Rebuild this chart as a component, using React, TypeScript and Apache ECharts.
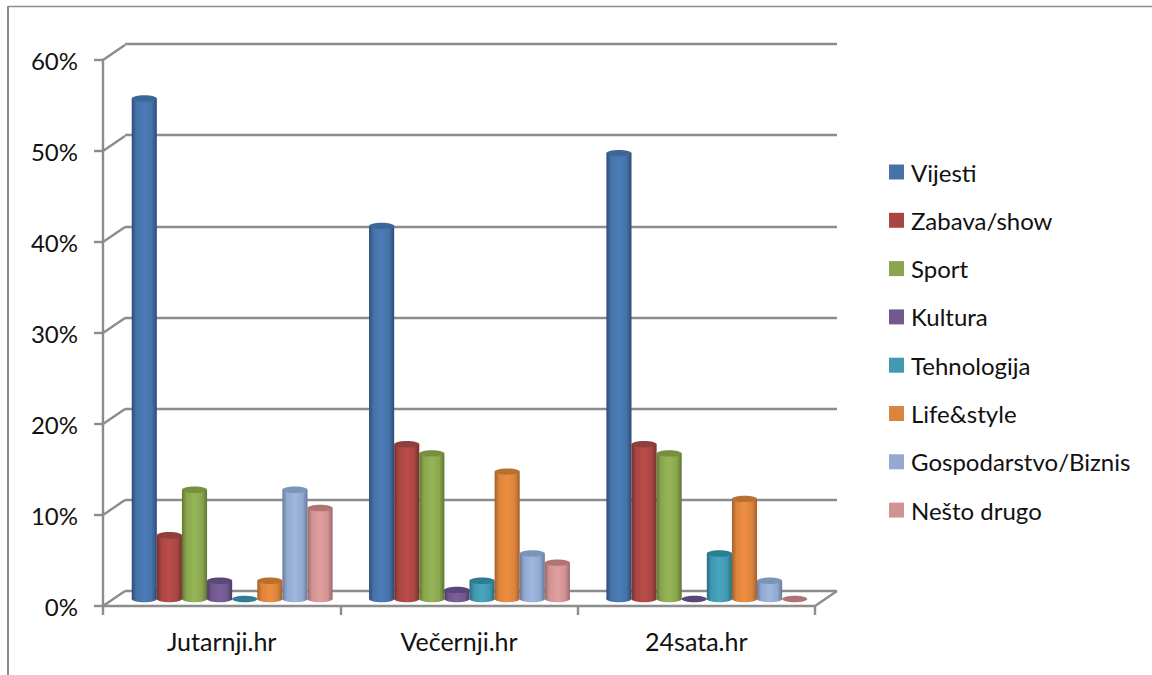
import React, { useEffect, useRef } from "react";
import * as echarts from "echarts";

const categories = ["Jutarnji.hr", "Večernji.hr", "24sata.hr"];
const seriesNames = ["Vijesti", "Zabava/show", "Sport", "Kultura", "Tehnologija", "Life&style", "Gospodarstvo/Biznis", "Nešto drugo"];
const vijesti = [55, 41, 49];
const zabava = [7, 17, 17];
const sport = [12, 16, 16];
const kultura = [2, 1, 0];
const tehnologija = [0, 2, 5];
const lifeStyle = [2, 14, 11];
const gospodarstvo = [12, 5, 2];
const nestoDrugo = [10, 4, 0];
const allValues = [vijesti, zabava, sport, kultura, tehnologija, lifeStyle, gospodarstvo, nestoDrugo];
const legendColors = ["#4672a8", "#a94643", "#8aa64e", "#71588f", "#4198af", "#db843d", "#93a9cf", "#d19392"];
const sideDark = ["#2c4c78", "#76302e", "#5f7534", "#4c3a63", "#2a6b7e", "#a3602a", "#677a9c", "#9c6a69"];
const sideLight = ["#4a7cb8", "#b94d4a", "#96b556", "#7b6199", "#47a7c0", "#ee8e40", "#9fb6de", "#e0a09f"];
const capColors = ["#3e6799", "#8f3f3c", "#76903f", "#5c4678", "#2f7d92", "#b8702e", "#7b94ba", "#b07476"];
const tickValues = [0, 10, 20, 30, 40, 50, 60];

const GREY = "#8c8c8c";
const TEXT = "#111111";
const FONT = "Lato";
const DEPTH_X = 22;
const DEPTH_Y = -15;

const cylinder = (idx: number) => (_p: any, api: any) => {
  const top = api.coord([api.value(0), api.value(1)]);
  const base = api.coord([api.value(0), 0]);
  const catW = api.size([1, 0])[0];
  const w = catW * 0.1058;
  const cx = top[0] + (idx - 3.5) * w;
  const rx = w / 2;
  const ry = 3.2;
  const children: any[] = [];
  const h = base[1] - top[1];
  if (h > 0.5) {
    const grad = new echarts.graphic.LinearGradient(0, 0, 1, 0, [
      { offset: 0, color: sideDark[idx] },
      { offset: 0.18, color: legendColors[idx] },
      { offset: 0.5, color: sideLight[idx] },
      { offset: 0.8, color: legendColors[idx] },
      { offset: 1, color: sideDark[idx] },
    ]);
    children.push({
      type: "ellipse",
      shape: { cx, cy: base[1], rx, ry },
      style: { fill: grad },
    });
    children.push({
      type: "rect",
      shape: { x: cx - rx, y: top[1], width: w, height: h },
      style: { fill: grad },
    });
  }
  children.push({
    type: "ellipse",
    shape: { cx, cy: top[1], rx, ry },
    style: { fill: capColors[idx] },
  });
  return { type: "group", children };
};

const wallLines = (_p: any, api: any) => {
  const p = api.coord([api.value(0), api.value(1)]);
  const catW = api.size([1, 0])[0];
  const lineStyle = { stroke: GREY, lineWidth: 2.4 };
  const x0 = p[0] - catW / 2;
  const children: any[] = [
    { type: "line", shape: { x1: x0, y1: p[1], x2: x0 + DEPTH_X, y2: p[1] + DEPTH_Y }, style: lineStyle },
  ];
  if (api.value(1) === 0) {
    const x1 = x0 + catW * categories.length;
    children.push({ type: "line", shape: { x1, y1: p[1], x2: x1 + DEPTH_X, y2: p[1] + DEPTH_Y }, style: lineStyle });
  }
  return { type: "group", children };
};

export default function App() {
  const ref = useRef<HTMLDivElement>(null);
  useEffect(() => {
    const chart = echarts.init(ref.current!, null, { renderer: "svg" });
    const hiddenCat = { type: "category", data: categories, show: false };
    const hiddenVal = { type: "value", min: 0, max: 60, interval: 10, show: false };
    chart.setOption({
      animation: false,
      backgroundColor: "#ffffff",
      color: legendColors,
      textStyle: { fontFamily: FONT },
      grid: [
        { left: 103, width: 712, top: 60, height: 546 },
        { left: 125, width: 712, top: 44, height: 547 },
        { left: 113.5, width: 712, top: 53, height: 546 },
      ],
      xAxis: [
        {
          type: "category",
          gridIndex: 0,
          data: categories,
          axisLine: { lineStyle: { color: GREY, width: 2.4 } },
          axisTick: { show: true, length: 9, lineStyle: { color: GREY, width: 2.4 } },
          axisLabel: { color: TEXT, fontFamily: FONT, fontSize: 25, margin: 22 },
        },
        { ...hiddenCat, gridIndex: 1 },
        { ...hiddenCat, gridIndex: 2 },
      ],
      yAxis: [
        {
          type: "value",
          gridIndex: 0,
          min: 0,
          max: 60,
          interval: 10,
          axisLine: { show: true, lineStyle: { color: GREY, width: 2.4 } },
          axisTick: { show: true, length: 9, lineStyle: { color: GREY, width: 2.4 } },
          axisLabel: { color: TEXT, fontFamily: FONT, fontSize: 24, margin: 25, formatter: "{value}%" },
          splitLine: { show: false },
        },
        {
          type: "value",
          gridIndex: 1,
          min: 0,
          max: 60,
          interval: 10,
          axisLine: { show: false },
          axisTick: { show: false },
          axisLabel: { show: false },
          splitLine: { show: true, lineStyle: { color: GREY, width: 2.4 } },
        },
        { ...hiddenVal, gridIndex: 2 },
      ],
      legend: {
        orient: "vertical",
        left: 889,
        top: 160,
        padding: 0,
        data: seriesNames,
        icon: "rect",
        itemWidth: 15,
        itemHeight: 15,
        itemGap: 24.3,
        selectedMode: false,
        textStyle: { color: TEXT, fontFamily: FONT, fontSize: 24, padding: [0, 0, 0, 2] },
      },
      graphic: [
        { type: "line", shape: { x1: 8, y1: 6.5, x2: 1152, y2: 6.5 }, style: { stroke: GREY, lineWidth: 1.5 } },
        { type: "line", shape: { x1: 8, y1: 6, x2: 8, y2: 675 }, style: { stroke: GREY, lineWidth: 2 } },
      ],
      series: [
        {
          type: "custom",
          name: "walls",
          xAxisIndex: 0,
          yAxisIndex: 0,
          silent: true,
          clip: false,
          z: 1,
          encode: { x: 0, y: 1 },
          data: tickValues.map((v) => [categories[0], v]),
          renderItem: wallLines,
        },
        ...seriesNames.map((name, i) => ({
          type: "custom",
          name,
          xAxisIndex: 2,
          yAxisIndex: 2,
          silent: true,
          clip: false,
          z: 3,
          itemStyle: { color: legendColors[i] },
          encode: { x: 0, y: 1 },
          data: allValues[i].map((v, c) => [categories[c], v]),
          renderItem: cylinder(i),
        })),
      ],
    });
    return () => chart.dispose();
  }, []);
  return <div ref={ref} style={{ position: "absolute", left: 0, top: 0, width: 1152, height: 675 }} />;
}
